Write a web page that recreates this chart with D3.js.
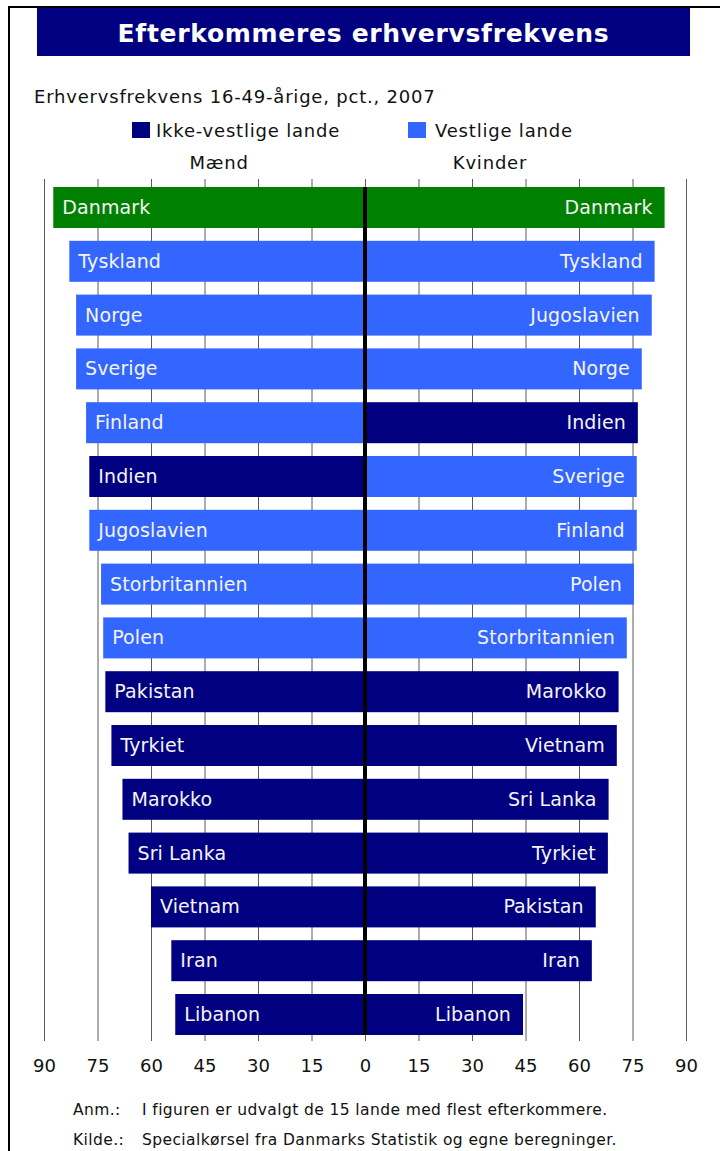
<!DOCTYPE html>
<html>
<head>
<meta charset="utf-8">
<script src="https://cdn.jsdelivr.net/npm/d3@7"></script>
<style>
  body { margin: 0; background: #fff; }
  svg { display: block; font-family: 'DejaVu Sans', Verdana, sans-serif; }
</style>
</head>
<body>
<div class="chart"></div>
<script>
// Erhvervsfrekvens 16-49-årige, pct., 2007

var menCountries = ['Danmark', 'Tyskland', 'Norge', 'Sverige', 'Finland', 'Indien', 'Jugoslavien',
    'Storbritannien', 'Polen', 'Pakistan', 'Tyrkiet', 'Marokko', 'Sri Lanka', 'Vietnam', 'Iran', 'Libanon']
var menValues = [87.4, 82.9, 81.0, 81.0, 78.2, 77.3, 77.3, 74.0, 73.4, 72.8, 71.1, 68.0, 66.3, 60.0, 54.3, 53.2]
var menGroups = ['dk', 'w', 'w', 'w', 'w', 'nw', 'w', 'w', 'w', 'nw', 'nw', 'nw', 'nw', 'nw', 'nw', 'nw']

var womenCountries = ['Danmark', 'Tyskland', 'Jugoslavien', 'Norge', 'Indien', 'Sverige', 'Finland',
    'Polen', 'Storbritannien', 'Marokko', 'Vietnam', 'Sri Lanka', 'Tyrkiet', 'Pakistan', 'Iran', 'Libanon']
var womenValues = [84.0, 81.2, 80.4, 77.6, 76.5, 76.2, 76.2, 75.4, 73.4, 71.1, 70.6, 68.3, 68.1, 64.7, 63.6, 44.3]
var womenGroups = ['dk', 'w', 'w', 'w', 'nw', 'w', 'w', 'w', 'w', 'nw', 'nw', 'nw', 'nw', 'nw', 'nw', 'nw']

var tickValues = [0, 15, 30, 45, 60, 75, 90]
var legendLabels = ['Ikke-vestlige lande', 'Vestlige lande']
var sideLabels = ['Mænd', 'Kvinder']

var colors = { dk: '#008000', w: '#3366ff', nw: '#000080' }

var svgWidth = 720
var svgHeight = 1151

var svg = d3.select('.chart')
    .append('svg')
    .attr('width', svgWidth)
    .attr('height', svgHeight)

// frame (top and left)
svg.append('path')
    .attr('d', 'M9,' + svgHeight + 'V7H' + svgWidth)
    .attr('fill', 'none')
    .attr('stroke', '#000')
    .attr('stroke-width', 2)

// title
svg.append('rect')
    .attr('x', 37).attr('y', 8)
    .attr('width', 653).attr('height', 48)
    .attr('fill', '#000080')
svg.append('text')
    .attr('x', 363.5).attr('y', 42)
    .attr('text-anchor', 'middle')
    .attr('fill', '#fff')
    .attr('font-size', '25px')
    .attr('font-weight', 'bold')
    .attr('letter-spacing', '0.7px')
    .text('Efterkommeres erhvervsfrekvens')

svg.append('text')
    .attr('x', 34).attr('y', 103)
    .attr('font-size', '18px')
    .attr('letter-spacing', '0.8px')
    .attr('fill', '#111')
    .text('Erhvervsfrekvens 16-49-årige, pct., 2007')

// legend
var legend = svg.selectAll('.legend')
    .data(legendLabels)
    .enter().append('g')
    .attr('class', 'legend')
    .attr('transform', (d, i) => `translate(${i === 0 ? 132 : 408}, 122)`)
legend.append('rect')
    .attr('width', 18).attr('height', 16)
    .attr('fill', (d, i) => i === 0 ? colors.nw : colors.w)
legend.append('text')
    .attr('x', (d, i) => i === 0 ? 24 : 27)
    .attr('y', 15)
    .attr('font-size', '18px')
    .attr('letter-spacing', '0.8px')
    .attr('fill', '#111')
    .text(d => d)

svg.selectAll('.side-label')
    .data(sideLabels)
    .enter().append('text')
    .attr('class', 'side-label')
    .attr('x', (d, i) => i === 0 ? 219 : 490)
    .attr('y', 169)
    .attr('text-anchor', 'middle')
    .attr('font-size', '18px')
    .attr('letter-spacing', '0.8px')
    .attr('fill', '#111')
    .text(d => d)

// scales
var zero = 365
var xLeft = d3.scaleLinear().domain([0, 90]).range([zero, 44])
var xRight = d3.scaleLinear().domain([0, 90]).range([zero, 686])

var y = d3.scaleBand()
    .domain(d3.range(menCountries.length))
    .range([187, 1035])
    .paddingInner(0.238)
    .paddingOuter(0)

var gridTop = 179
var axisY = 1041

// axes with gridlines as long ticks
function styleAxis(g) {
    g.select('.domain').remove()
    g.selectAll('.tick line').attr('stroke', '#5a5a5a').attr('stroke-width', 1)
    g.selectAll('.tick text')
        .attr('font-size', '18px')
        .attr('fill', '#111')
        .attr('font-family', "'DejaVu Sans', Verdana, sans-serif")
}

svg.append('g')
    .attr('transform', `translate(0, ${axisY})`)
    .call(d3.axisBottom(xLeft).tickValues(tickValues.slice(1)).tickSize(-(axisY - gridTop)).tickPadding(18))
    .call(styleAxis)

svg.append('g')
    .attr('transform', `translate(0, ${axisY})`)
    .call(d3.axisBottom(xRight).tickValues(tickValues).tickSize(-(axisY - gridTop)).tickPadding(18))
    .call(styleAxis)

// bars
var men = menCountries.map((c, i) => ({ country: c, value: menValues[i], group: menGroups[i], row: i }))
var women = womenCountries.map((c, i) => ({ country: c, value: womenValues[i], group: womenGroups[i], row: i }))

svg.selectAll('.bar-men')
    .data(men)
    .enter().append('rect')
    .attr('class', 'bar-men')
    .attr('x', d => xLeft(d.value))
    .attr('y', d => y(d.row))
    .attr('width', d => xLeft(0) - xLeft(d.value))
    .attr('height', y.bandwidth())
    .attr('fill', d => colors[d.group])

svg.selectAll('.bar-women')
    .data(women)
    .enter().append('rect')
    .attr('class', 'bar-women')
    .attr('x', xRight(0))
    .attr('y', d => y(d.row))
    .attr('width', d => xRight(d.value) - xRight(0))
    .attr('height', y.bandwidth())
    .attr('fill', d => colors[d.group])

svg.selectAll('.label-men')
    .data(men)
    .enter().append('text')
    .attr('class', 'label-men')
    .attr('x', d => xLeft(d.value) + 9)
    .attr('y', d => y(d.row) + y.bandwidth() / 2 + 6.5)
    .attr('font-size', '19px')
    .attr('letter-spacing', '0.1px')
    .attr('fill', '#f4f4f4')
    .text(d => d.country)

svg.selectAll('.label-women')
    .data(women)
    .enter().append('text')
    .attr('class', 'label-women')
    .attr('x', d => xRight(d.value) - 12)
    .attr('y', d => y(d.row) + y.bandwidth() / 2 + 6.5)
    .attr('text-anchor', 'end')
    .attr('font-size', '19px')
    .attr('letter-spacing', '0.1px')
    .attr('fill', '#f4f4f4')
    .text(d => d.country)

// centre line
svg.append('line')
    .attr('x1', zero).attr('x2', zero)
    .attr('y1', y(0)).attr('y2', y(menCountries.length - 1) + y.bandwidth())
    .attr('stroke', '#000')
    .attr('stroke-width', 4)

// notes
var notes = [['Anm.:', 'I figuren er udvalgt de 15 lande med flest efterkommere.'],
    ['Kilde.:', 'Specialkørsel fra Danmarks Statistik og egne beregninger.']]
var noteRows = svg.selectAll('.note')
    .data(notes)
    .enter().append('g')
    .attr('class', 'note')
    .attr('transform', (d, i) => `translate(73, ${1115 + i * 30})`)
noteRows.append('text')
    .attr('font-size', '15.5px')
    .attr('letter-spacing', '0.4px')
    .attr('fill', '#111')
    .text(d => d[0])
noteRows.append('text')
    .attr('x', 69)
    .attr('font-size', '15.5px')
    .attr('letter-spacing', '0.4px')
    .attr('fill', '#111')
    .text(d => d[1])
</script>
</body>
</html>
